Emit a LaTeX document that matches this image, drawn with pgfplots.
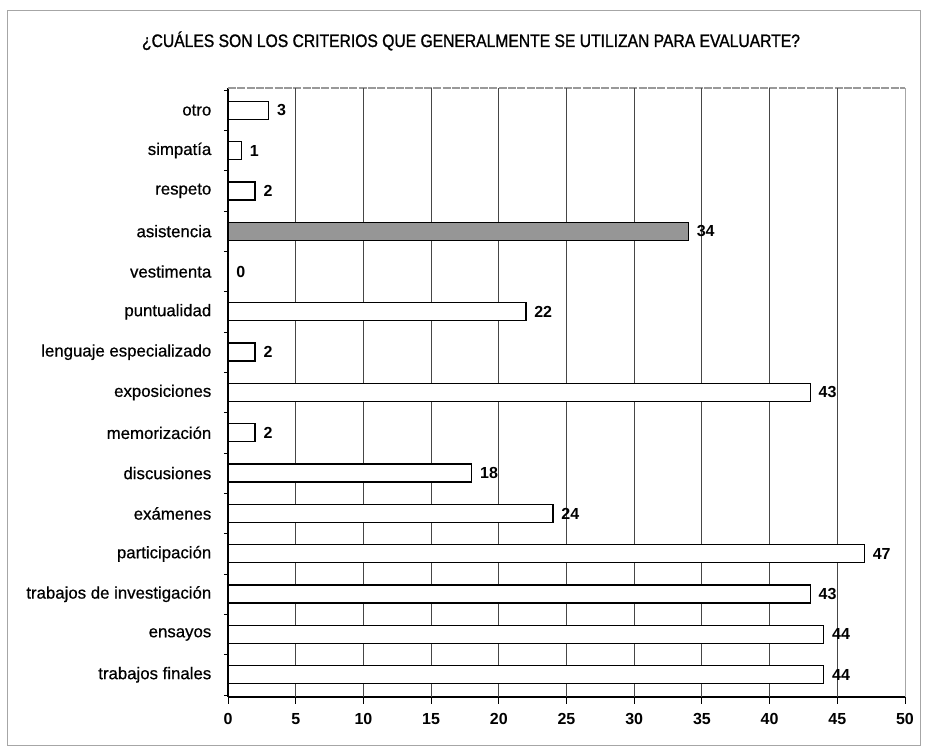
\documentclass[border=0pt]{standalone}
\usepackage{fontspec}
\setmainfont{Liberation Sans}
\newfontfamily\narrowfont[FakeStretch=0.87,FakeBold=1.2]{Liberation Sans}
\newfontfamily\labfont[FakeBold=0.6]{Liberation Sans}
\usepackage{pgfplots}
\pgfplotsset{compat=1.18}
\definecolor{gridc}{RGB}{70,70,70}
\definecolor{barg}{RGB}{150,150,150}
\begin{document}
\begin{tikzpicture}
\useasboundingbox (0,0) rectangle (693.75pt,562.5pt);
\draw[gray!70, line width=0.6pt] (5.25pt,3.75pt) rectangle (690pt,555pt);
\node[font=\narrowfont\fontsize{13.5}{15}\selectfont, anchor=base, inner sep=0pt] at (353.25pt,527.25pt) {¿CUÁLES SON LOS CRITERIOS QUE GENERALMENTE SE UTILIZAN PARA EVALUARTE?};
\begin{axis}[
  at={(171pt,39.75pt)}, anchor=south west,
  scale only axis, width=507.75pt, height=456.75pt,
  xbar, bar width=13.5pt, bar shift=0pt,
  xmin=0, xmax=50, ymin=-0.55, ymax=14.55,
  xtick={0,5,...,50},
  ytick={0,...,14},
  yticklabels={trabajos finales, ensayos, trabajos de investigación, participación, exámenes, discusiones, memorización, exposiciones, lenguaje especializado, puntualidad, vestimenta, asistencia, respeto, simpatía, otro},
  minor ytick={-0.5,0.5,...,14.5},
  axis x line*=bottom, axis y line*=left,
  axis line style={-, black, line width=0.8pt},
  major x tick style={black, line width=0.7pt},
  major y tick style={draw=none},
  minor y tick style={black, line width=0.6pt},
  tick align=outside, major tick length=5pt, minor tick length=3pt,
  /pgf/number format/assume math mode=true,
  xticklabel style={font=\bfseries\fontsize{12}{14}\selectfont, yshift=-4pt},
  yticklabel style={font=\labfont\fontsize{12.6}{14}\selectfont, xshift=-4pt},
  nodes near coords,
  every node near coord/.append style={font=\bfseries\fontsize{12}{14}\selectfont, anchor=west, xshift=2.5pt},
  clip=false,
]
\draw[gray!80, line width=0.8pt, dash pattern=on 6pt off 1pt] (rel axis cs:0,1) -- (rel axis cs:1,1);
\foreach \g in {5,10,...,45} {
  \edef\tmp{\noexpand\draw[gridc, line width=0.7pt] (axis cs:\g,-0.55) -- (axis cs:\g,14.55);}\tmp
}
\draw[gray!70, line width=0.7pt] (axis cs:50,-0.55) -- (axis cs:50,14.55);
\addplot[draw=black, line width=1pt, fill=white] coordinates {
 (44,0) (44,1) (43,2) (47,3) (24,4) (18,5) (2,6) (43,7) (2,8) (22,9) (0,10) (2,12) (1,13) (3,14)
};
\addplot[draw=black, line width=1pt, fill=barg] coordinates {(34,11)};
\end{axis}
\end{tikzpicture}
\end{document}
